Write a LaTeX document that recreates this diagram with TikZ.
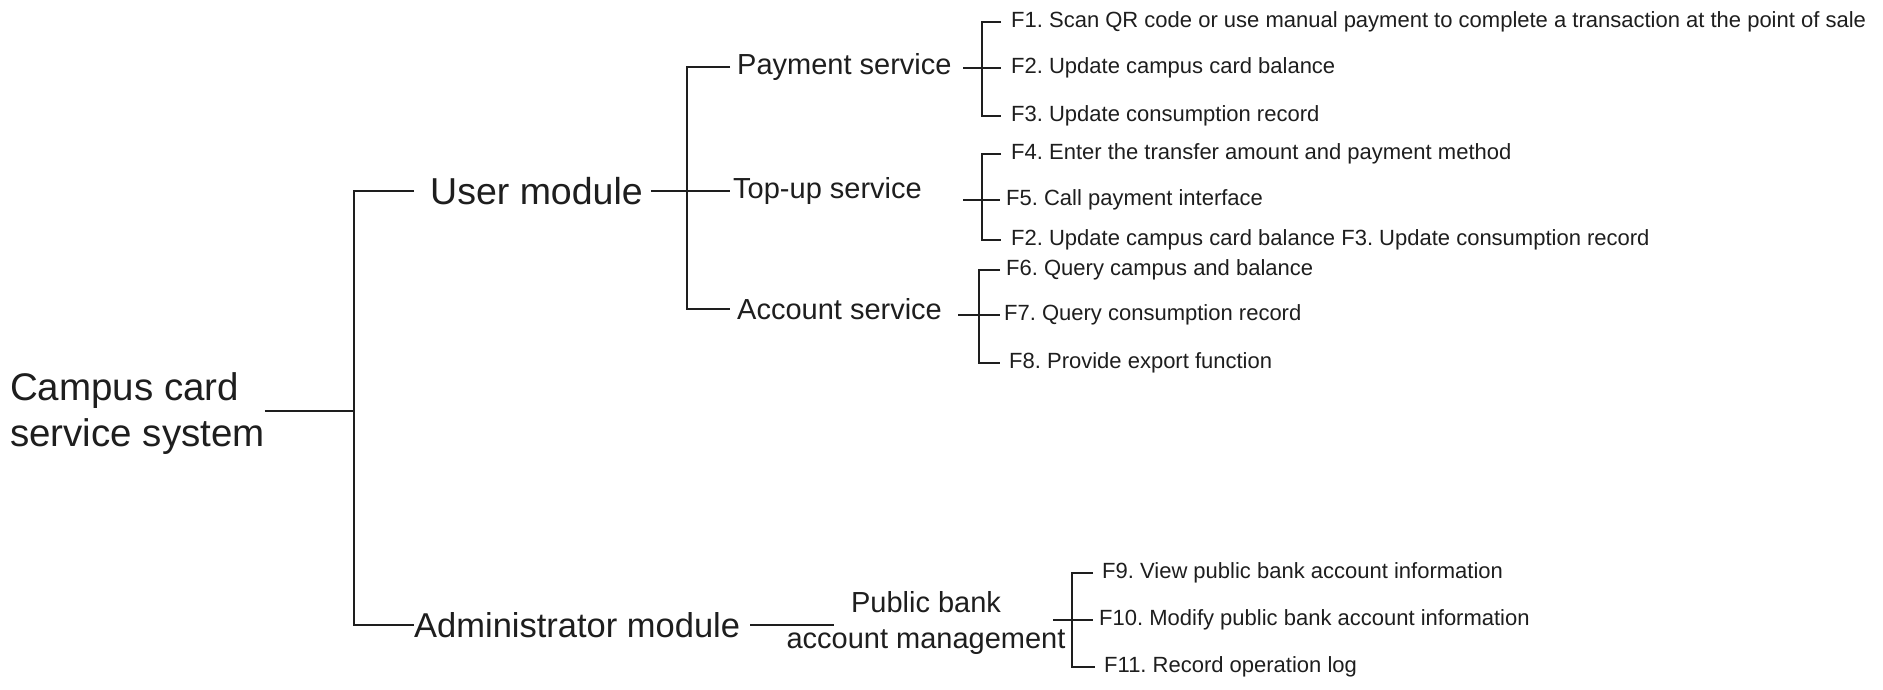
\documentclass[tikz,border=0pt]{standalone}
\usepackage{fontspec}
\setmainfont{Liberation Sans}
\frenchspacing
\definecolor{ink}{HTML}{1E1E1E}
\begin{document}
\begin{tikzpicture}[x=1pt,y=-1pt,
  conn/.style={draw=ink,line width=2pt},
  base/.style={text=ink,inner sep=0pt,anchor=west},
  leaf/.style={base,font=\fontsize{22}{26}\selectfont},
  svc/.style={base,font=\fontsize{29}{36}\selectfont},
  mod/.style={base,font=\fontsize{36}{42}\selectfont},
  rootn/.style={base,font=\fontsize{38.5}{46}\selectfont,align=left}]
\useasboundingbox[fill=white] (0,0) rectangle (1883,689);
% nodes
\node[rootn] (root) at (10,414) {Campus card\\service system};
\node[mod,font=\fontsize{37.5}{42}\selectfont] (umod) at (430,191) {User module};
\node[mod,font=\fontsize{34.5}{42}\selectfont] (amod) at (414,625) {Administrator module};
\node[svc] (pay) at (737,67) {Payment service};
\node[svc] (top) at (733,191) {Top-up service};
\node[svc] (acc) at (737,309) {Account service};
\node[svc,anchor=center,align=center] (pub) at (926,623) {Public bank\\account management};
\node[leaf] (f1) at (1011,22) {F1. Scan QR code or use manual payment to complete a transaction at the point of sale};
\node[leaf] (f2a) at (1011,68) {F2. Update campus card balance};
\node[leaf] (f3a) at (1011,116) {F3. Update consumption record};
\node[leaf] (f4) at (1011,154) {F4. Enter the transfer amount and payment method};
\node[leaf] (f5) at (1006,200) {F5. Call payment interface};
\node[leaf] (f23) at (1011,240) {F2. Update campus card balance F3. Update consumption record};
\node[leaf] (f6) at (1006,270) {F6. Query campus and balance};
\node[leaf] (f7) at (1004,315) {F7. Query consumption record};
\node[leaf] (f8) at (1009,363) {F8. Provide export function};
\node[leaf] (f9) at (1102,573) {F9. View public bank account information};
\node[leaf] (f10) at (1099,620) {F10. Modify public bank account information};
\node[leaf] (f11) at (1104,667) {F11. Record operation log};
% junctions
\coordinate (j0) at (354,411);
\coordinate (j1) at (687,191);
\coordinate (p) at (982,68);
\coordinate (t) at (982,200);
\coordinate (a) at (979,315);
\coordinate (b) at (1072,620);
% connectors
\draw[conn] (root.east |- j0) -- (j0);
\draw[conn] ([xshift=-16]umod.west) -| (j0) |- (amod.west);
\draw[conn] ([xshift=8]umod.east) -- ([xshift=-3]top.west);
\draw[conn] ([xshift=-7]pay.west) -| (j1) |- ([xshift=-7]acc.west);
\draw[conn] ([xshift=-10]f1.west) -| (p) |- ([xshift=-10]f3a.west);
\draw[conn] ([xshift=-19]p) -- ([xshift=-10]f2a.west);
\draw[conn] ([xshift=-10]f4.west) -| (t) |- ([xshift=-10]f23.west);
\draw[conn] ([xshift=-19]t) -- ([xshift=-6]f5.west);
\draw[conn] ([xshift=-6]f6.west) -| (a) |- ([xshift=-9]f8.west);
\draw[conn] ([xshift=-21]a) -- ([xshift=-4]f7.west);
\draw[conn] ([xshift=10]amod.east) -- ++(84,0) coordinate (pe);
\draw[conn] ([xshift=-9]f9.west) -| (b) |- ([xshift=-9]f11.west);
\draw[conn] ([xshift=-19]b) -- ([xshift=-6]f10.west);
\end{tikzpicture}
\end{document}
